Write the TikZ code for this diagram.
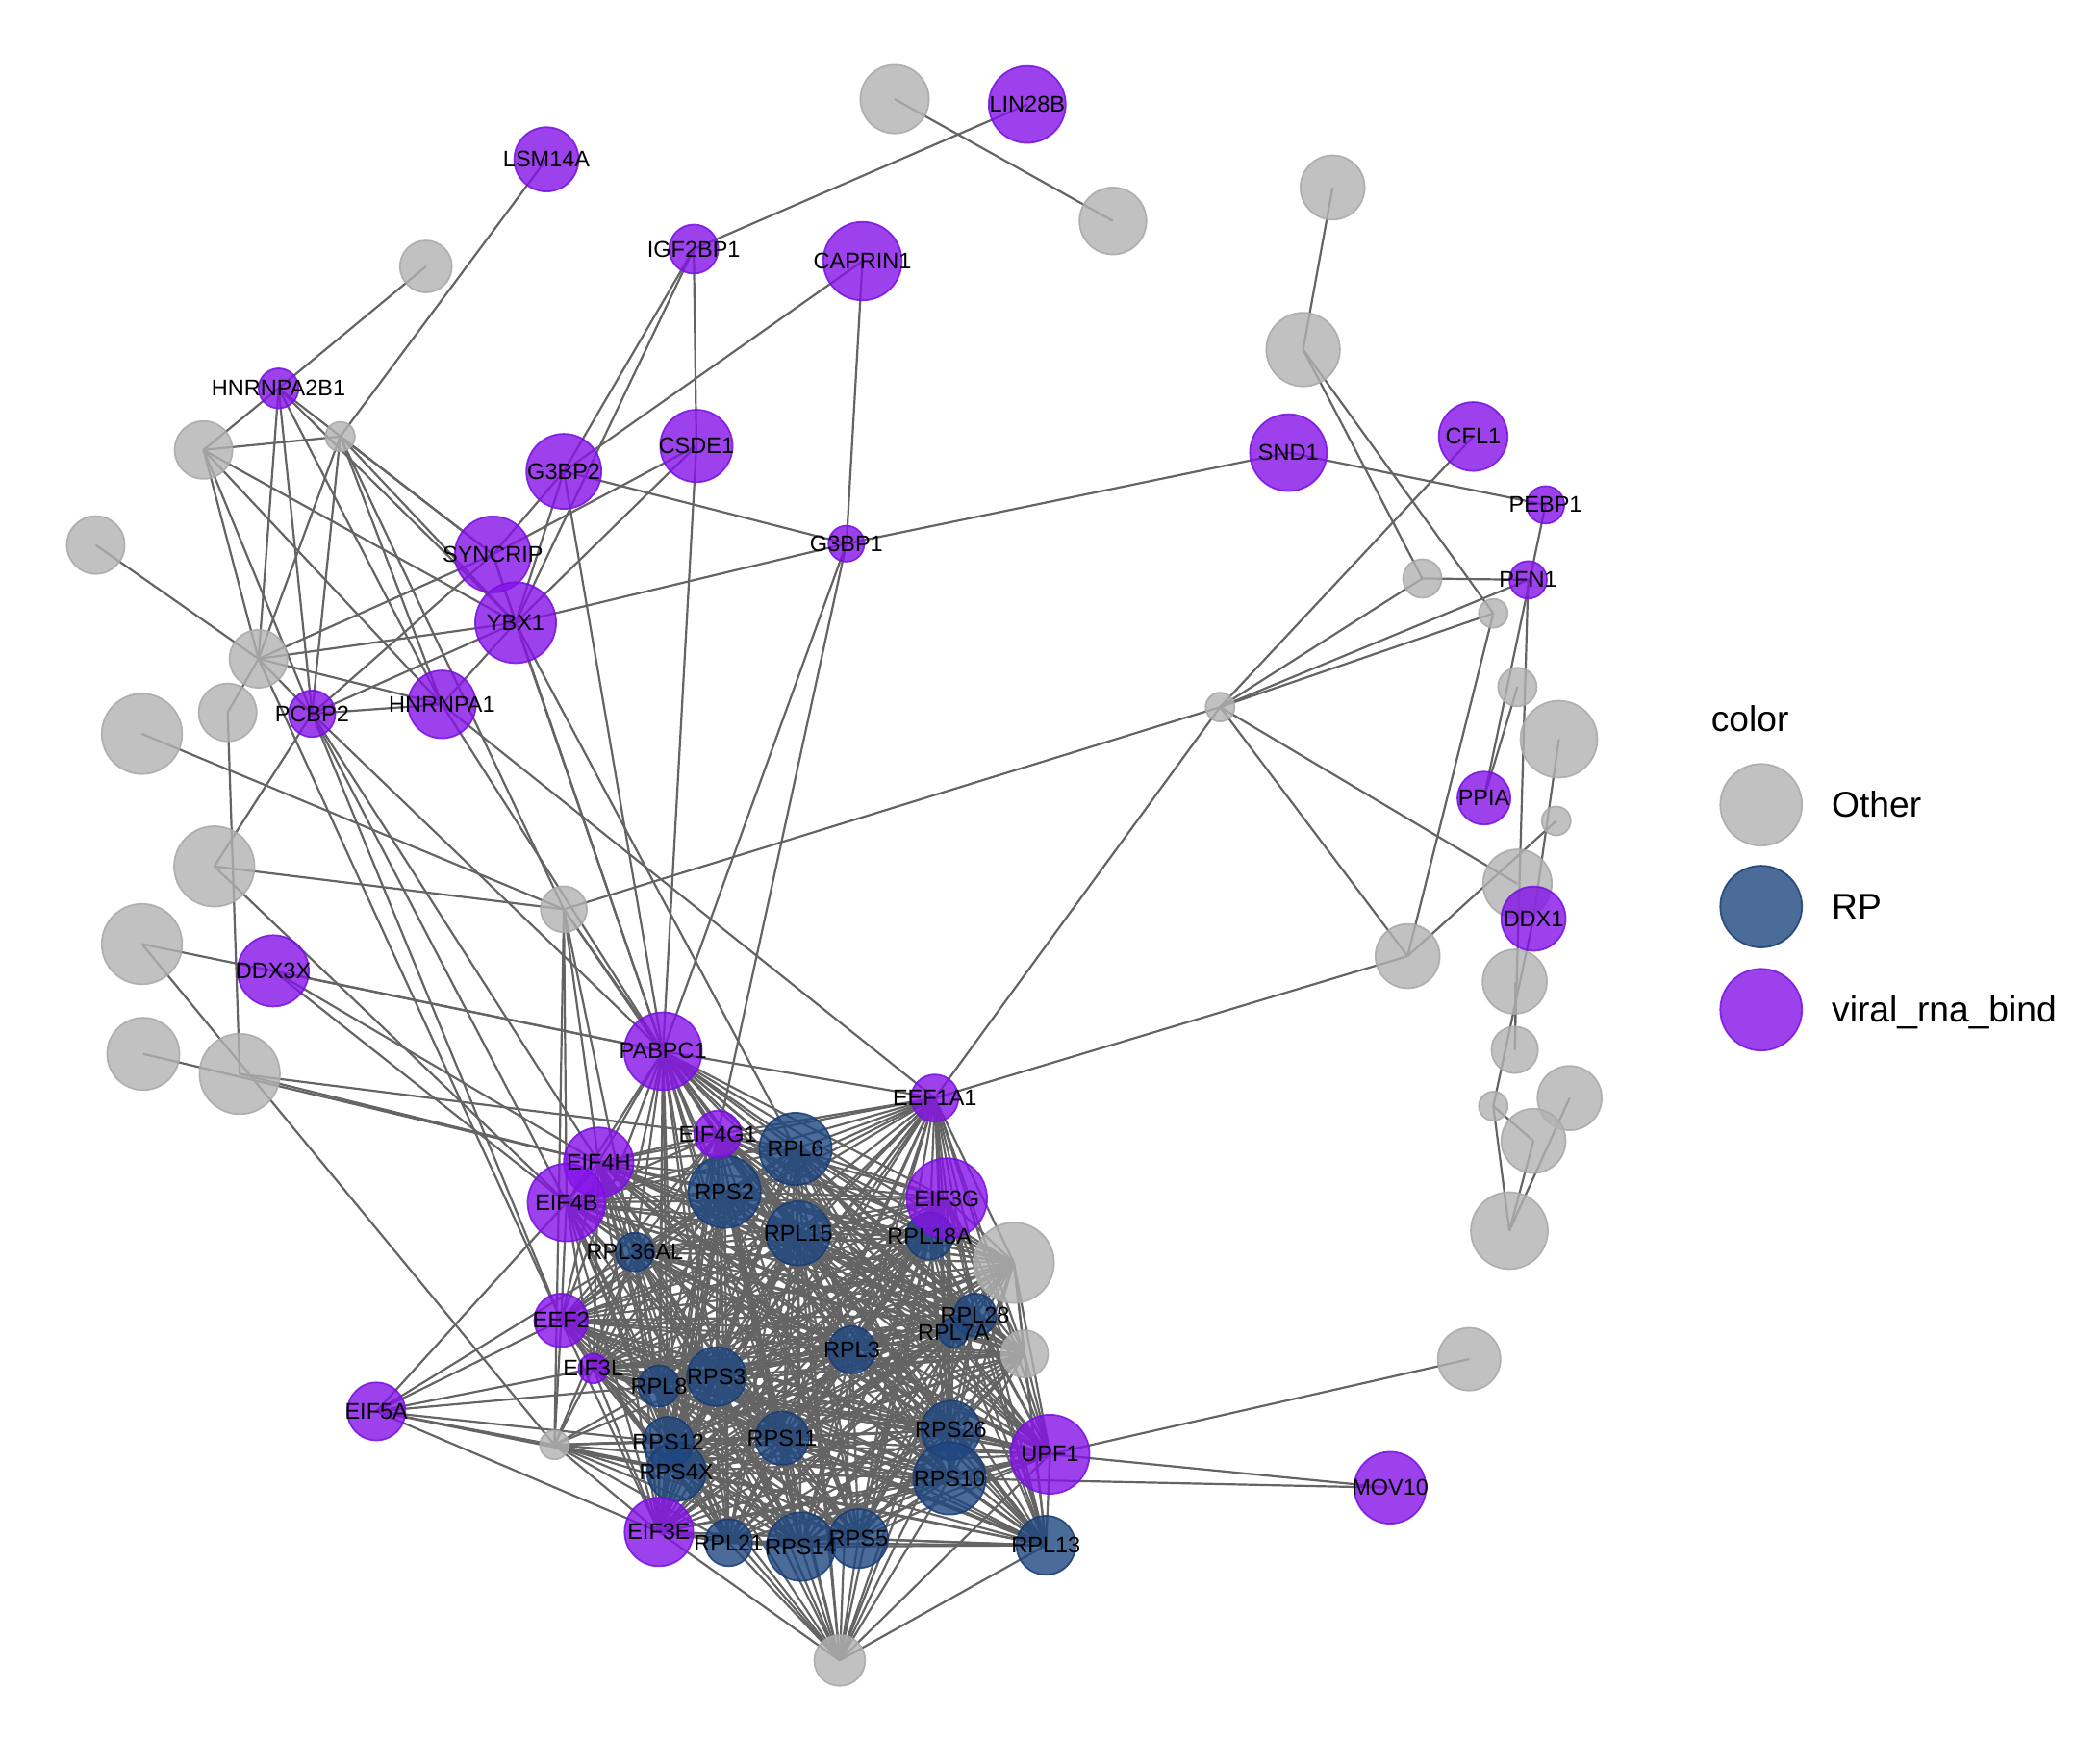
\documentclass[tikz,border=0pt]{standalone}
\usepackage{fontspec}
\setmainfont{Liberation Sans}
\usepackage{tikz}
\definecolor{vrbfill}{RGB}{132,18,231}
\definecolor{vrbline}{RGB}{118,16,226}
\definecolor{rpfill}{RGB}{30,70,128}
\definecolor{rpline}{RGB}{26,60,116}
\definecolor{otherfill}{RGB}{178,178,178}
\definecolor{otherline}{RGB}{168,168,168}
\definecolor{edgegray}{RGB}{100,100,100}
\pgfdeclarelayer{edgelayer}
\pgfsetlayers{edgelayer,main}

\begin{document}
\begin{tikzpicture}[x=0.01cm, y=-0.01cm,
    gene/.style={circle, inner sep=0pt, line width=0.35pt, fill opacity=0.8, draw opacity=0.85},
    vrb/.style={gene, fill=vrbfill, draw=vrbline},
    rp/.style={gene, fill=rpfill, draw=rpline},
    other/.style={gene, fill=otherfill, draw=otherline},
    edge/.style={draw=edgegray, line width=0.45pt},
    lab/.style={font=\fontsize{4.8}{5}\selectfont, inner sep=0pt},
    legtext/.style={font=\fontsize{7.6}{8.5}\selectfont, anchor=base west, inner sep=0pt}]
  \useasboundingbox (0,0) rectangle (1568,1317);
  % Other nodes
  \foreach \n/\x/\y/\r in {oA/668/74/25.6, oB/831/165/25, oC/318/199/19.4, oN/995/140/24,
      oO/973/261/27.5, oD/152/336/21.6, oS1/254/326/11, oE/71.5/407/21.6, oP/1062/432/14.4,
      oQ/1115/458/10.8, oF/193/492/21.6, oG/170/532/21.6, oR/1133/513/14.4, oJ/106/548/30,
      oS3/911/528/10.8, oU/1164/552/28.7, oV/1162/613/10.8, oK/160/647/30, oI/421/679/17.2,
      oW/1133/660/25.7, oL/106/705/30, oAD/1051/714/24, oX/1131/733/24, oM/107/787/27,
      oH/179/802/30, oY/1131/784/17.4, oAA/1172/820/24, oZ/1115/826/10.8, oAB/1145/852/24,
      oAC/1127/919/28.7, oCA/757/943/30, oCB/765/1011/17.6, oAE/1097/1015/23.4,
      oS2/414/1079/10.8, oCC/627/1240/19}
    \node[other, minimum size=\r*0.02cm] (\n) at (\x,\y) {};
  % RP nodes
  \foreach \n/\x/\y/\r in {RPL6/594/858/27, RPS2/541/890/27, RPL15/596/921/24, RPL18A/694/923/17.6,
      RPL36AL/474/935/14.4, RPL28/728/982/16, RPL7A/712/995/11, RPL3/636/1008/17.6,
      RPL8/492/1035/15.4, RPS3/535/1028/22, RPS12/499/1077/19, RPS11/584/1074/20,
      RPS26/710/1068/22, RPS4X/505/1099/22, RPS10/709/1104/27, RPL21/544/1152/17.6,
      RPS14/598/1155/25.6, RPS5/641/1149/22, RPL13/781/1154/22}
    \node[rp, minimum size=\r*0.02cm] (\n) at (\x,\y) {};
  % viral_rna_bind nodes
  \foreach \n/\x/\y/\r in {LIN28B/767/78/28.7, LSM14A/408/119/24, IGF2BP1/518/186/18.3,
      CAPRIN1/644/195/29.3, HNRNPA2B1/208/290/14.9, G3BP2/421/352/28, CSDE1/520/333/27,
      SND1/962/338/28.7, CFL1/1100/326/25.7, PEBP1/1154/377/14, G3BP1/632/406/13.4,
      SYNCRIP/368/414/28.4, YBX1/385/465/30.2, PFN1/1141/433/14, PCBP2/233/533/17.4,
      HNRNPA1/330/526/25.3, PPIA/1108/596/19.8, DDX1/1145/686/24, DDX3X/204/725/26.6,
      PABPC1/495/785/29, EEF1A1/698/820/17.6, EIF4G1/536/847/17.6, EIF4H/447/868/26,
      EIF4B/423/898/29, EIF3G/707/895/30, EEF2/419/986/20, EIF3L/443/1022/11,
      EIF5A/281/1054/21.6, UPF1/784/1086/29.5, MOV10/1038/1111/26.8, EIF3E/492/1144/25.6}
    \node[vrb, minimum size=\r*0.02cm] (\n) at (\x,\y) {};
  % labels
  \foreach \g in {LIN28B, LSM14A, IGF2BP1, CAPRIN1, HNRNPA2B1, G3BP2, CSDE1, SND1, CFL1, PEBP1,
      G3BP1, SYNCRIP, YBX1, PFN1, PCBP2, HNRNPA1, PPIA, DDX1, DDX3X, PABPC1, EEF1A1, EIF4G1,
      EIF4H, EIF4B, EIF3G, EEF2, EIF3L, EIF5A, UPF1, MOV10, EIF3E, RPL6, RPS2, RPL15, RPL18A,
      RPL36AL, RPL28, RPL7A, RPL3, RPL8, RPS3, RPS12, RPS11, RPS26, RPS4X, RPS10, RPL21,
      RPS14, RPS5, RPL13}
    \node[lab] (\g-t) at (\g) {\g};
  % legend
  \node[legtext] (legtitle) at (1277,546) {color};
  \node[other, minimum size=0.61cm] (legother) at (1315,601) {};
  \node[rp, minimum size=0.61cm] (legrp) at (1315,677) {};
  \node[vrb, minimum size=0.61cm] (legvrb) at (1315,754) {};
  \node[legtext] (legother-t) at (1367,610) {Other};
  \node[legtext] (legrp-t) at (1367,686) {RP};
  \node[legtext] (legvrb-t) at (1367,763) {viral\_rna\_bind};
  % edges
  \begin{pgfonlayer}{edgelayer}
    \def\corelist{RPL6,RPS2,RPL15,RPL18A,RPL36AL,RPL28,RPL7A,RPL3,RPL8,RPS3,RPS12,RPS11,RPS26,
      RPS4X,RPS10,RPL21,RPS14,RPS5,RPL13,PABPC1,EEF1A1,EIF4G1,EIF4H,EIF4B,EIF3G,EEF2,EIF3L,
      EIF3E,UPF1,oCA,oCB}
    \foreach \a [count=\i] in \corelist {
      \foreach \b [count=\j] in \corelist {
        \ifnum\j>\i \draw[edge] (\a.center) -- (\b.center); \fi
      }
    }
    \foreach \b in {EEF2, EIF3L, RPS12, RPS4X, EIF3E, RPL8, RPS3, RPS11, RPL21, RPS14, RPS5,
        RPS10, RPL13, RPS26, RPL36AL}
      \draw[edge] (oS2.center) -- (\b.center);
    \foreach \b in {EIF3E, RPS4X, RPS12, RPL21, RPS14, RPS5, RPS11, RPS3, RPL8, RPS10, RPS26,
        RPL13, UPF1, RPL3, RPL15, RPS2, RPL6, RPL36AL, RPL28, RPL7A, RPL18A}
      \draw[edge] (oCC.center) -- (\b.center);
    \foreach \a/\b in {oA/oB, LIN28B/IGF2BP1, LSM14A/oS1, oC/HNRNPA2B1,
        HNRNPA2B1/oD, HNRNPA2B1/oF, HNRNPA2B1/PCBP2, HNRNPA2B1/SYNCRIP, HNRNPA2B1/HNRNPA1,
        HNRNPA2B1/YBX1, oS1/oD, oS1/oF, oS1/PCBP2, oS1/SYNCRIP, oS1/YBX1, oS1/HNRNPA1, oS1/oI,
        oD/oF, oD/PCBP2, oD/YBX1, oD/HNRNPA1, oE/oF, oF/SYNCRIP, oF/YBX1, oF/HNRNPA1,
        oF/PCBP2, oF/oG, oF/EEF2, oG/oH,
        PCBP2/HNRNPA1, PCBP2/SYNCRIP, PCBP2/YBX1, PCBP2/oK, PCBP2/PABPC1, PCBP2/EIF4B,
        PCBP2/EIF4H, PCBP2/EEF2, HNRNPA1/YBX1, HNRNPA1/PABPC1, HNRNPA1/EEF1A1,
        SYNCRIP/G3BP2, SYNCRIP/YBX1, SYNCRIP/CSDE1, SYNCRIP/PABPC1,
        YBX1/CSDE1, YBX1/G3BP2, YBX1/G3BP1, YBX1/PABPC1, YBX1/RPL6,
        G3BP2/IGF2BP1, G3BP2/CAPRIN1, G3BP2/G3BP1, G3BP2/PABPC1,
        IGF2BP1/CSDE1, IGF2BP1/YBX1, CSDE1/PABPC1,
        CAPRIN1/G3BP1, G3BP1/SND1, G3BP1/PABPC1, G3BP1/EIF4G1,
        oJ/oI, oK/oI, oK/EIF4B, oL/PABPC1, oL/oS2, DDX3X/PABPC1, DDX3X/EIF4B, DDX3X/EIF4H,
        oM/EIF4H, oH/EIF4G1, oH/EIF4H,
        oI/PABPC1, oI/oS2, oI/EIF4H, oI/EIF4B, oI/oS3, oI/EIF4G1, oI/RPL36AL,
        SND1/PEBP1, oN/oO, oO/oP, oO/oQ, CFL1/oS3, oP/PFN1, oP/oS3, PFN1/oS3, oQ/oS3, oQ/oAD,
        PEBP1/PPIA, PFN1/oY, oR/PPIA, oU/DDX1, oV/oAD, oS3/EEF1A1, oS3/oAD, oS3/oW,
        EEF1A1/oAD, DDX1/oZ, oX/oY, oZ/oAC, oZ/oAB, oAB/oAC, oAA/oAC,
        UPF1/oAE, UPF1/MOV10, RPS10/MOV10,
        EIF5A/EEF2, EIF5A/RPL36AL, EIF5A/EIF4B, EIF5A/EIF3L, EIF5A/RPL8, EIF5A/oS2,
        EIF5A/RPS12, EIF5A/RPS4X, EIF5A/EIF3E}
      \draw[edge] (\a.center) -- (\b.center);
  \end{pgfonlayer}
\end{tikzpicture}
\end{document}
